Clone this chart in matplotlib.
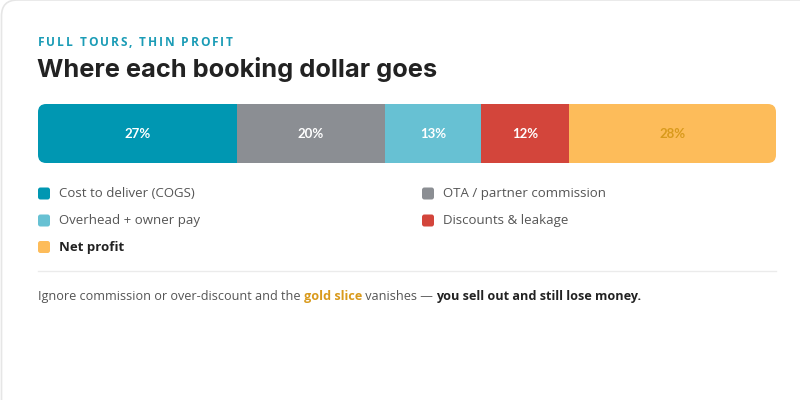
import matplotlib.pyplot as plt
from matplotlib.patches import FancyBboxPatch

categories = ["Cost to deliver (COGS)", "OTA / partner commission", "Overhead + owner pay",
              "Discounts & leakage", "Net profit"]
shares = [27, 20, 13, 12, 28]
colors = ["#0097B2", "#8B8E93", "#67C1D3", "#D3453B", "#FDBC5A"]
label_colors = ["white", "white", "white", "white", "#D99A1C"]

W, H = 800, 400
fig = plt.figure(figsize=(8, 4), dpi=100)
fig.patch.set_facecolor("white")

def fx(px):
    return px / W

def fy(py):
    return 1 - py / H

# card outline (behind everything)
card = FancyBboxPatch((fx(1.5), fy(420)), fx(830), 420 / H,
                      boxstyle="round,pad=0,rounding_size=0.02",
                      transform=fig.transFigure, facecolor="none",
                      edgecolor="#E6E6E6", linewidth=1.2,
                      mutation_aspect=2, zorder=-5)
fig.patches.append(card)

renderer = fig.canvas.get_renderer()

def spaced_text(x, y, s, spacing, **kw):
    # text with extra letter spacing, placed char by char
    for ch in s:
        t = fig.text(fx(x), fy(y), ch, va="baseline", ha="left", **kw)
        w = t.get_window_extent(renderer).width
        x += w + spacing

spaced_text(38, 45.5, "FULL TOURS, THIN PROFIT", 1.85, fontsize=8.6,
            fontweight="bold", color="#1B9CB6", family="Open Sans")

fig.text(fx(37), fy(77.5), "Where each booking dollar goes", fontsize=18.3,
         fontweight="bold", color="#222222", family="Inter", va="baseline")

# stacked bar
ax = fig.add_axes([fx(38), fy(163), fx(776) - fx(38), 59 / H])
ax.set_xlim(0, 100)
ax.set_ylim(0, 1)
ax.axis("off")
clip = FancyBboxPatch((0, 0), 100, 1, boxstyle="round,pad=0,rounding_size=1.1",
                      mutation_aspect=738 / 5900, facecolor="none", edgecolor="none",
                      transform=ax.transData)
ax.add_patch(clip)
left = 0
for v, c, lc in zip(shares, colors, label_colors):
    b = ax.barh(0.5, v, left=left, height=1, color=c, edgecolor="none")
    for p in b:
        p.set_clip_path(clip)
    ax.text(left + v / 2, 0.5, f"{v}%", ha="center", va="center", color=lc,
            fontsize=9.5, fontweight="bold", family="Lato")
    left += v

# legend
leg_pos = [(38, 193.5), (422, 193.5), (38, 220.5), (422, 220.5), (38, 247)]
for (x, y), name, c in zip(leg_pos, categories, colors):
    sq = FancyBboxPatch((fx(x), fy(y + 6)), fx(12), 12 / H,
                        boxstyle="round,pad=0,rounding_size=0.003",
                        transform=fig.transFigure, facecolor=c, edgecolor="none",
                        mutation_aspect=2)
    fig.patches.append(sq)
    bold = name == "Net profit"
    fig.text(fx(x + 21), fy(y), name, fontsize=9.5, va="center", ha="left",
             color="#222222" if bold else "#555555",
             fontweight="bold" if bold else "normal", family="Open Sans")

# divider
fig.add_artist(plt.Line2D([fx(38), fx(776)], [fy(270.5), fy(270.5)],
                          color="#EBEBEB", linewidth=1))

# footer
runs = [("Ignore commission or over-discount and the ", "#555555", "normal"),
        ("gold slice", "#D99A1C", "bold"),
        (" vanishes \u2014 ", "#555555", "normal"),
        ("you sell out and still lose money.", "#222222", "bold")]
x = 38
for s, c, w in runs:
    t = fig.text(fx(x), fy(300), s, fontsize=9.1, color=c, fontweight=w,
                 family="Open Sans", va="baseline", ha="left")
    x += t.get_window_extent(renderer).width

fig.savefig("out.png", dpi=100, facecolor="white")
